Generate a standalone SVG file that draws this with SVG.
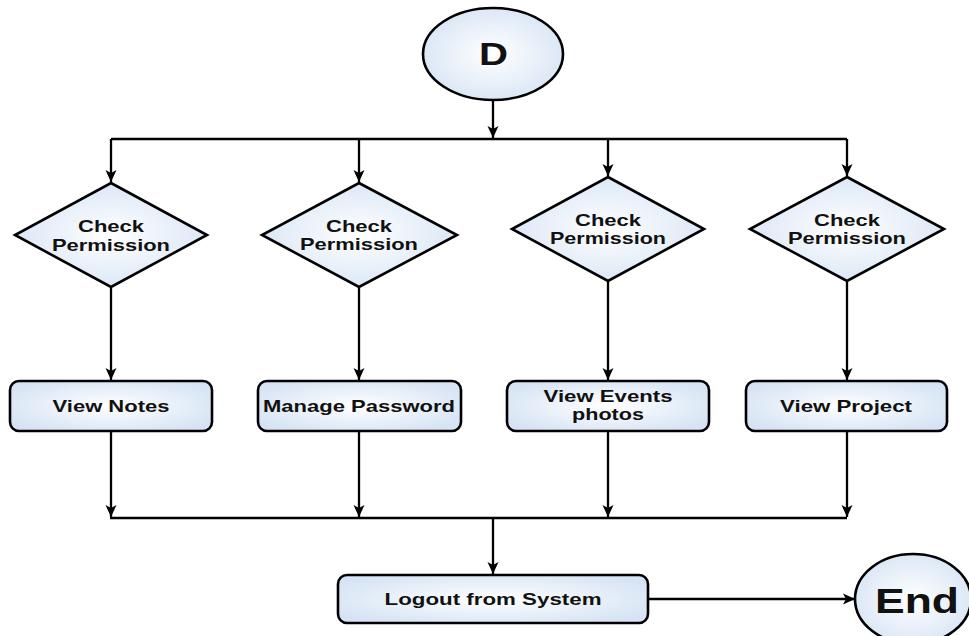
<svg xmlns="http://www.w3.org/2000/svg" width="969" height="636" viewBox="0 0 969 636">
<defs>
<radialGradient id="fill" cx="50%" cy="50%" r="60%">
<stop offset="0" stop-color="#ffffff"/>
<stop offset="1" stop-color="#d5e3f4"/>
</radialGradient>
<marker id="arr" markerUnits="userSpaceOnUse" markerWidth="13" markerHeight="13" viewBox="0 0 13 13" refX="12" refY="6.5" orient="auto">
<path d="M0,1 L12,6.5 L0,12 L3,6.5 Z" fill="#000"/>
</marker>
</defs>
<style>
.shape{fill:url(#fill);stroke:#000;stroke-width:2.6}
.line{fill:none;stroke:#000;stroke-width:2.3}
.t{font-family:"Liberation Sans",Arial,sans-serif;font-weight:bold;font-size:17px;fill:#111;text-anchor:middle}
</style>
<rect width="969" height="636" fill="#fff"/>
<g id="connectors">
<path class="line" d="M493,100 V138" marker-end="url(#arr)"/>
<path class="line" d="M111,139 H847"/>
<path class="line" d="M111,139 V182" marker-end="url(#arr)"/>
<path class="line" d="M359,139 V182" marker-end="url(#arr)"/>
<path class="line" d="M608,139 V176" marker-end="url(#arr)"/>
<path class="line" d="M847,139 V176" marker-end="url(#arr)"/>
<path class="line" d="M111,287 V380" marker-end="url(#arr)"/>
<path class="line" d="M359,287 V380" marker-end="url(#arr)"/>
<path class="line" d="M608,281 V380" marker-end="url(#arr)"/>
<path class="line" d="M847,281 V380" marker-end="url(#arr)"/>
<path class="line" d="M111,431 V517" marker-end="url(#arr)"/>
<path class="line" d="M359,431 V517" marker-end="url(#arr)"/>
<path class="line" d="M608,431 V517" marker-end="url(#arr)"/>
<path class="line" d="M847,431 V517" marker-end="url(#arr)"/>
<path class="line" d="M110,518 H847"/>
<path class="line" d="M493,518 V574" marker-end="url(#arr)"/>
<path class="line" d="M648,599 H855" marker-end="url(#arr)"/>
</g>
<g id="start">
<ellipse class="shape" cx="493" cy="54" rx="70" ry="46"/>
<text class="t" x="493.5" y="65" style="font-size:31px" textLength="29" lengthAdjust="spacingAndGlyphs">D</text>
</g>
<g id="check1">
<polygon class="shape" points="111,183 207,235 111,287 15,235"/>
<text class="t" x="111" y="232" textLength="66" lengthAdjust="spacingAndGlyphs">Check</text>
<text class="t" x="111" y="251" textLength="118" lengthAdjust="spacingAndGlyphs">Permission</text>
</g>
<g id="check2">
<polygon class="shape" points="359,183 457,235 359,287 262,235"/>
<text class="t" x="359" y="232" textLength="66" lengthAdjust="spacingAndGlyphs">Check</text>
<text class="t" x="359" y="250" textLength="118" lengthAdjust="spacingAndGlyphs">Permission</text>
</g>
<g id="check3">
<polygon class="shape" points="608,177 704,229 608,281 512,229"/>
<text class="t" x="608" y="226" textLength="66" lengthAdjust="spacingAndGlyphs">Check</text>
<text class="t" x="608" y="244" textLength="116" lengthAdjust="spacingAndGlyphs">Permission</text>
</g>
<g id="check4">
<polygon class="shape" points="847,177 944,229 847,281 750,229"/>
<text class="t" x="847" y="226" textLength="66" lengthAdjust="spacingAndGlyphs">Check</text>
<text class="t" x="847" y="244" textLength="118" lengthAdjust="spacingAndGlyphs">Permission</text>
</g>
<g id="viewNotes">
<rect class="shape" x="10" y="381" width="202" height="50" rx="9"/>
<text class="t" x="111" y="412" textLength="117" lengthAdjust="spacingAndGlyphs">View Notes</text>
</g>
<g id="managePassword">
<rect class="shape" x="258" y="381" width="203" height="50" rx="9"/>
<text class="t" x="359" y="412" textLength="192" lengthAdjust="spacingAndGlyphs">Manage Password</text>
</g>
<g id="viewEvents">
<rect class="shape" x="507" y="381" width="202" height="50" rx="9"/>
<text class="t" x="608" y="402" textLength="129" lengthAdjust="spacingAndGlyphs">View Events</text>
<text class="t" x="608" y="420" textLength="72" lengthAdjust="spacingAndGlyphs">photos</text>
</g>
<g id="viewProject">
<rect class="shape" x="746" y="381" width="201" height="50" rx="9"/>
<text class="t" x="846" y="412" textLength="132" lengthAdjust="spacingAndGlyphs">View Project</text>
</g>
<g id="logout">
<rect class="shape" x="338" y="575" width="310" height="48" rx="9"/>
<text class="t" x="493" y="605" textLength="217" lengthAdjust="spacingAndGlyphs">Logout from System</text>
</g>
<g id="end">
<ellipse class="shape" cx="913" cy="599" rx="58" ry="45"/>
<text class="t" x="917" y="613" style="font-size:35px" textLength="84" lengthAdjust="spacingAndGlyphs">End</text>
</g>
</svg>
